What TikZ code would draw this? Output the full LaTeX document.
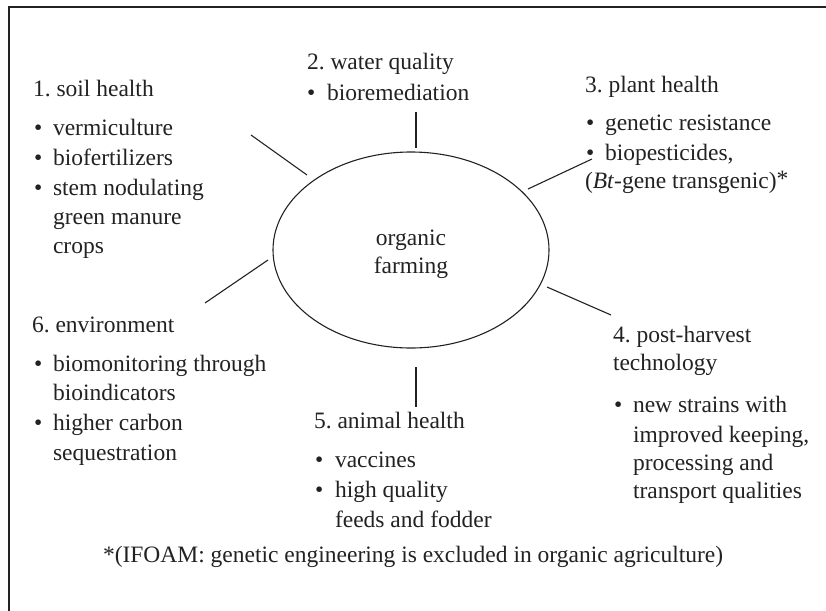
\documentclass[tikz,border=0pt]{standalone}
\usepackage{fontspec}
\setmainfont{Liberation Serif}
\definecolor{ink}{HTML}{222222}
\frenchspacing
\begin{document}
\begin{tikzpicture}[x=1pt,y=-1pt,
  txt/.style={anchor=base west,inner sep=0pt,outer sep=0pt,text=ink,font=\fontsize{23.5}{28}\selectfont},
  conn/.style={draw=ink,line width=1.1pt}]
\useasboundingbox (0,0) rectangle (826,610);
\draw[ink,line width=2pt] (9,612) -- (9,7) -- (828,7);
% hub
\draw[ink,line width=1.1pt] (411,250) ellipse [x radius=138, y radius=98];
\node[txt,anchor=base] (og1) at (411,245) {organic};
\node[txt,anchor=base] (og2) at (411,273) {farming};
% 1 soil health
\node[txt] (s0) at (33,96) {1. soil health};
\node[txt] (s1b) at (34,135) {\textbullet};
\node[txt] (s1) at (53,135) {vermiculture};
\node[txt] (s2b) at (34,165) {\textbullet};
\node[txt] (s2) at (53,165) {biofertilizers};
\node[txt] (s3b) at (34,195) {\textbullet};
\node[txt] (s3) at (53,195) {stem nodulating};
\node[txt] (s4) at (53,224) {green manure};
\node[txt] (s5) at (53,253) {crops};
% 2 water quality
\node[txt] (w0) at (307,70) {2. water quality};
\node[txt] (w1b) at (307,100) {\textbullet};
\node[txt] (w1) at (327,100) {bioremediation};
% 3 plant health
\node[txt] (p0) at (585,92) {3. plant health};
\node[txt] (p1b) at (586,130) {\textbullet};
\node[txt] (p1) at (605,130) {genetic resistance};
\node[txt] (p2b) at (586,160) {\textbullet};
\node[txt] (p2) at (605,160) {biopesticides,};
\node[txt] (p3) at (585,188) {(\textit{Bt}-gene transgenic)\raisebox{0.1ex}{*}};
% 4 post-harvest
\node[txt] (h0) at (613,342) {4. post-harvest};
\node[txt] (h1) at (613,370) {technology};
\node[txt] (h2b) at (614,412) {\textbullet};
\node[txt] (h2) at (633,412) {new strains with};
\node[txt] (h3) at (633,442) {improved keeping,};
\node[txt] (h4) at (633,470) {processing and};
\node[txt] (h5) at (633,498) {transport qualities};
% 5 animal health
\node[txt] (a0) at (314,428) {5. animal health};
\node[txt] (a1b) at (315,467) {\textbullet};
\node[txt] (a1) at (335,467) {vaccines};
\node[txt] (a2b) at (315,497) {\textbullet};
\node[txt] (a2) at (335,497) {high quality};
\node[txt] (a3) at (335,527) {feeds and fodder};
% 6 environment
\node[txt] (e0) at (32,332) {6. environment};
\node[txt] (e1b) at (34,371) {\textbullet};
\node[txt] (e1) at (53,371) {biomonitoring through};
\node[txt] (e2) at (53,400) {bioindicators};
\node[txt] (e3b) at (34,430) {\textbullet};
\node[txt] (e3) at (53,430) {higher carbon};
\node[txt] (e4) at (53,460) {sequestration};
% footnote
\node[txt] (fn) at (103,562) {*(IFOAM: genetic engineering is excluded in organic agriculture)};
% connector end points
\coordinate (cs1) at (251,135); \coordinate (cs2) at (307,175);
\coordinate (cw1) at (416,112); \coordinate (cw2) at (416,148);
\coordinate (cp1) at (528,189); \coordinate (cp2) at (592,159);
\coordinate (ch1) at (547,287); \coordinate (ch2) at (611,315);
\coordinate (ca1) at (416,367); \coordinate (ca2) at (416,407);
\coordinate (ce1) at (268,260); \coordinate (ce2) at (205,303);
\draw[conn] (cs1) -- (cs2);
\draw[conn] (cw1) -- (cw2);
\draw[conn] (cp1) -- (cp2);
\draw[conn] (ch1) -- (ch2);
\draw[conn] (ca1) -- (ca2);
\draw[conn] (ce1) -- (ce2);
\end{tikzpicture}
\end{document}
